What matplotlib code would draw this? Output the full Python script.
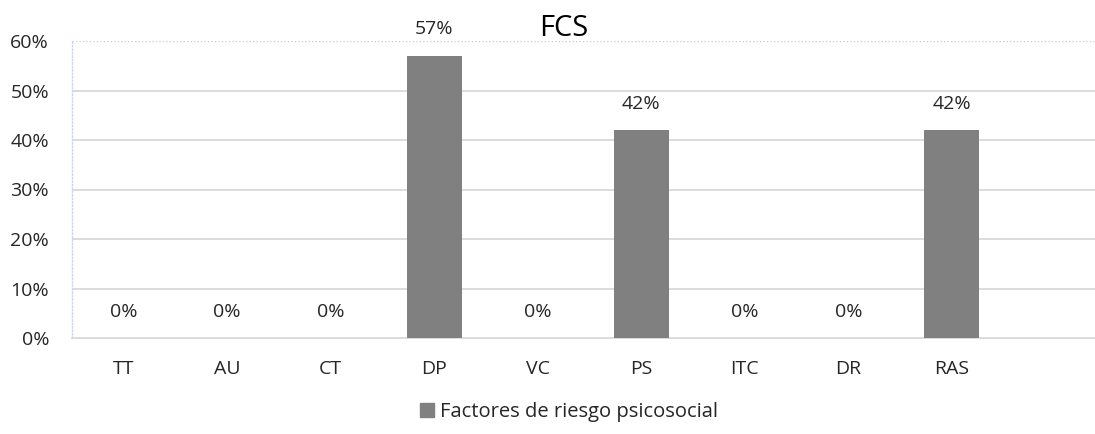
import numpy as np
import matplotlib.pyplot as plt

categories = ['TT', 'AU', 'CT', 'DP', 'VC', 'PS', 'ITC', 'DR', 'RAS']
values = [0, 0, 0, 57, 0, 42, 0, 0, 42]
yticks = [0, 10, 20, 30, 40, 50, 60]
series_name = 'Factores de riesgo psicosocial'

plt.rcParams['font.family'] = ['Open Sans', 'DejaVu Sans']

fig = plt.figure(figsize=(10.95, 4.34), dpi=100)
W, H = 1095, 434
x0, x1 = 72, 1107
y0, y1 = 338, 41
ax = fig.add_axes([x0 / W, 1 - y0 / H, (x1 - x0) / W, (y0 - y1) / H])

x = np.arange(len(categories))
bars = ax.bar(x, values, width=0.53, color='#808080', zorder=3)

for xi, v in zip(x, values):
    ax.annotate(f'{v}%', (xi, v), xytext=(0, 19), textcoords='offset points',
                ha='center', va='center', fontsize=14, color='#262626')

ax.set_xlim(-0.5, 9.5)
ax.set_ylim(0, 60)
ax.set_yticks(yticks)
ax.set_yticklabels([f'{t}%' for t in yticks], fontsize=14, color='#262626')
ax.set_xticks(x)
ax.set_xticklabels(categories, fontsize=14, color='#262626')
ax.tick_params(axis='y', length=0, pad=16.5)
ax.tick_params(axis='x', length=0, pad=16)

for t in yticks[1:-1]:
    ax.axhline(t, color='#d9d9d9', lw=1.3, zorder=1)
ax.axhline(60, color='#c8d0dc', lw=1, ls=(0, (1, 1.5)), zorder=1)

for s in ['top', 'right']:
    ax.spines[s].set_visible(False)
ax.spines['bottom'].set_color('#d9d9d9')
ax.spines['bottom'].set_linewidth(1.3)
ax.spines['left'].set_color('#c8d6ee')
ax.spines['left'].set_linestyle((0, (1, 1.5)))
ax.spines['left'].set_linewidth(1)

fig.text(564 / W, 1 - 28 / H, 'FCS', ha='center', va='center', fontsize=21, color='#000000')

handle = plt.Rectangle((0, 0), 1, 1, color='#808080')
fig.legend([handle], [series_name], loc='center', bbox_to_anchor=(569 / W, 1 - 412 / H),
           frameon=False, fontsize=14.5, handlelength=0.7, handleheight=0.7, handletextpad=0.3,
           labelcolor='#262626')

fig.savefig('out.png', dpi=100)
